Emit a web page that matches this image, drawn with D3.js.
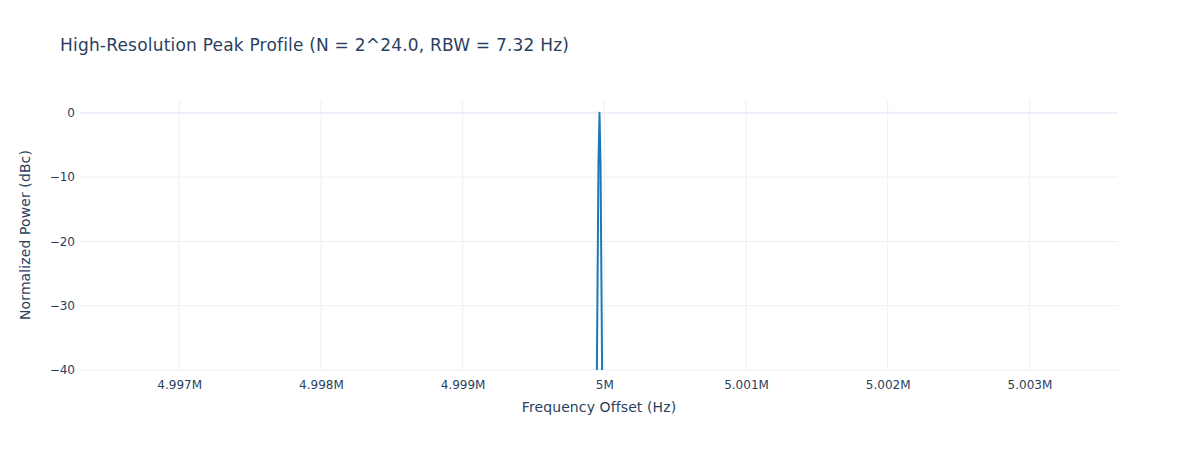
<!DOCTYPE html>
<html><head><meta charset="utf-8">
<script src="https://cdn.jsdelivr.net/npm/d3@7"></script>
<style>body{margin:0;background:#fff}svg{font-family:"DejaVu Sans",Verdana,sans-serif}</style>
</head><body><svg id="c" width="1198" height="450"></svg>
<script>
const titleText = "High-Resolution Peak Profile (N = 2^24.0, RBW = 7.32 Hz)";
const freqHz = [4999936.7, 4999944.0, 4999951.4, 4999958.7, 4999966.0, 4999973.3, 4999980.6, 4999988.0, 4999995.3];
const powerDb = [-75, -50, -29, -8, 0, -8, -29, -50, -75];
const xTicks = [4997000, 4998000, 4999000, 5000000, 5001000, 5002000, 5003000];
const xTickLabels = ["4.997M", "4.998M", "4.999M", "5M", "5.001M", "5.002M", "5.003M"];
const yTicks = [0, -10, -20, -30, -40];
const xDomain = [4996300, 5003625];
const yDomain = [-40, 2];

const W = 1198, H = 450, m = {l: 80, r: 80, t: 100, b: 80};
const svg = d3.select("#c");
const x = d3.scaleLinear().domain(xDomain).range([m.l, W - m.r]);
const y = d3.scaleLinear().domain(yDomain).range([H - m.b, m.t]);
const grid = "#EBF0F8", txt = "#2a3f5f";

svg.append("g").selectAll("line").data(xTicks).join("line")
  .attr("x1", d => x(d)).attr("x2", d => x(d)).attr("y1", m.t).attr("y2", H - m.b)
  .attr("stroke", grid).attr("stroke-width", 1);
svg.append("g").selectAll("line").data(yTicks).join("line")
  .attr("x1", m.l).attr("x2", W - m.r).attr("y1", d => y(d)).attr("y2", d => y(d))
  .attr("stroke", grid).attr("stroke-width", d => d === 0 ? 2 : 1);

svg.append("clipPath").attr("id", "clip").append("rect")
  .attr("x", m.l).attr("y", m.t).attr("width", W - m.l - m.r).attr("height", H - m.t - m.b);

const line = d3.line().x((d, i) => x(freqHz[i])).y(d => y(d));
svg.append("path").datum(powerDb).attr("clip-path", "url(#clip)")
  .attr("d", line).attr("fill", "none").attr("stroke", "#1f77b4").attr("stroke-width", 2)
  .attr("stroke-linejoin", "round");

const xAxis = d3.axisBottom(x).tickValues(xTicks).tickFormat((d, i) => xTickLabels[i]).tickSize(0).tickPadding(10);
const gx = svg.append("g").attr("transform", `translate(0,${H - m.b})`).call(xAxis);
gx.select(".domain").remove();
gx.selectAll("text").attr("fill", txt).style("font-size", "12px").style("font-family", "'DejaVu Sans',Verdana,sans-serif");

const yAxis = d3.axisLeft(y).tickValues(yTicks).tickFormat(d => d < 0 ? "\u2212" + Math.abs(d) : String(d)).tickSize(0).tickPadding(3);
const gy = svg.append("g").attr("transform", `translate(${m.l - 2},0)`).call(yAxis);
gy.select(".domain").remove();
gy.selectAll("text").attr("fill", txt).style("font-size", "12px").style("font-family", "'DejaVu Sans',Verdana,sans-serif");

svg.append("text").attr("x", 60).attr("y", 51).attr("fill", txt).style("font-size", "17px")
  .style("letter-spacing", "0.2px").text(titleText);
svg.append("text").attr("x", (m.l + W - m.r) / 2).attr("y", 412).attr("text-anchor", "middle")
  .attr("fill", txt).style("font-size", "14px").style("letter-spacing", "0.1px").text("Frequency Offset (Hz)");
svg.append("text").attr("transform", `translate(30,${(m.t + H - m.b) / 2}) rotate(-90)`)
  .attr("text-anchor", "middle").attr("fill", txt).style("font-size", "14px").style("letter-spacing", "0.1px").text("Normalized Power (dBc)");
</script></body></html>
